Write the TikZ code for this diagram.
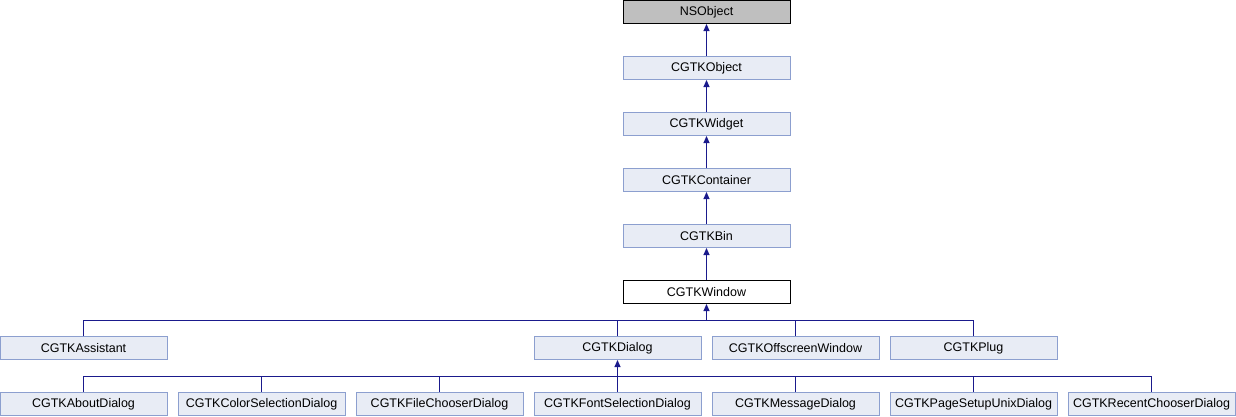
\documentclass[tikz,border=0pt]{standalone}
\usepackage{fontspec}
\setmainfont{Liberation Sans}
\usetikzlibrary{arrows.meta}
\definecolor{clsfill}{HTML}{E8ECF5}
\definecolor{clsborder}{HTML}{8C9FCF}
\definecolor{rootfill}{HTML}{BFBFBF}
\definecolor{edgeblue}{HTML}{1A1A8C}
\begin{document}
\begin{tikzpicture}[x=1pt,y=-1pt,font=\fontsize{12.5}{15}\selectfont]
    % Define styles
    \tikzset{
        cls/.style={rectangle, minimum width=167pt, minimum height=23pt, inner sep=0pt, draw=clsborder, fill=clsfill, line width=1pt},
        root/.style={cls, draw=black, fill=rootfill},
        current/.style={cls, draw=black, fill=white},
        edge/.style={draw=edgeblue, line width=1pt},
        inh/.style={edge, -{Triangle[width=6pt,length=7pt]}},
    }
    \useasboundingbox (0,0) rectangle (1236,416);

    % Chain up to the root
    \node[root] (nsobject) at (706.5,12) {NSObject};
    \node[cls] (object) at (706.5,68) {CGTKObject};
    \node[cls] (widget) at (706.5,124) {CGTKWidget};
    \node[cls] (container) at (706.5,180) {CGTKContainer};
    \node[cls] (bin) at (706.5,236) {CGTKBin};
    \node[current] (window) at (706.5,292) {CGTKWindow};

    \draw[inh] (object) -- (nsobject);
    \draw[inh] (widget) -- (object);
    \draw[inh] (container) -- (widget);
    \draw[inh] (bin) -- (container);
    \draw[inh] (window) -- (bin);

    % Subclasses of CGTKWindow
    \node[cls] (assistant) at (83.5,348) {CGTKAssistant};
    \node[cls] (dialog) at (617.5,348) {CGTKDialog};
    \node[cls] (offscreen) at (795.5,348) {CGTKOffscreenWindow};
    \node[cls] (plug) at (973.5,348) {CGTKPlug};

    \coordinate (winfork) at (706.5,320);
    \draw[inh] (winfork) -- (window);
    \draw[edge] (assistant) |- (winfork);
    \draw[edge] (dialog) |- (winfork);
    \draw[edge] (offscreen) |- (winfork);
    \draw[edge] (plug) |- (winfork);

    % Subclasses of CGTKDialog
    \node[cls] (about) at (83.5,404) {CGTKAboutDialog};
    \node[cls] (color) at (261.5,404) {CGTKColorSelectionDialog};
    \node[cls] (filechooser) at (439.5,404) {CGTKFileChooserDialog};
    \node[cls] (fontsel) at (617.5,404) {CGTKFontSelectionDialog};
    \node[cls] (message) at (795.5,404) {CGTKMessageDialog};
    \node[cls] (pagesetup) at (973.5,404) {CGTKPageSetupUnixDialog};
    \node[cls] (recent) at (1151.5,404) {CGTKRecentChooserDialog};

    \coordinate (dlgfork) at (617.5,376);
    \draw[inh] (dlgfork) -- (dialog);
    \draw[edge] (about) |- (dlgfork);
    \draw[edge] (color) |- (dlgfork);
    \draw[edge] (filechooser) |- (dlgfork);
    \draw[edge] (fontsel) -- (dlgfork);
    \draw[edge] (message) |- (dlgfork);
    \draw[edge] (pagesetup) |- (dlgfork);
    \draw[edge] (recent) |- (dlgfork);
\end{tikzpicture}
\end{document}
